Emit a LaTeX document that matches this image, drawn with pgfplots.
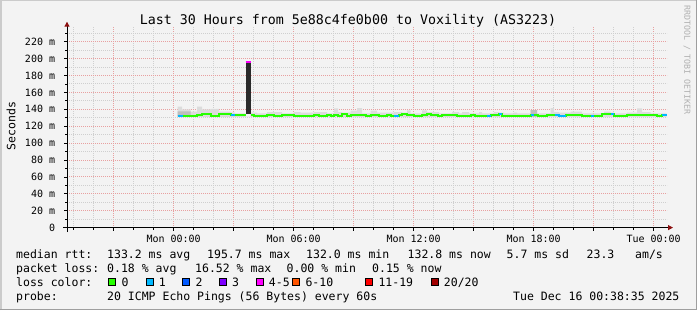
\documentclass[border=0pt]{standalone}
\usepackage{fontspec}
\setmainfont{DejaVu Sans Mono}
\usepackage{pgfplots}
\pgfplotsset{compat=1.18}
\usetikzlibrary{arrows.meta}
\definecolor{bgc}{HTML}{F3F3F3}
\definecolor{lc0}{HTML}{26FF00}
\definecolor{lc1}{HTML}{00B8FF}
\definecolor{lc2}{HTML}{0059FF}
\definecolor{lc3}{HTML}{7E00FF}
\definecolor{lc5}{HTML}{FF00FE}
\definecolor{lc10}{HTML}{FF5500}
\definecolor{lc19}{HTML}{FF0000}
\definecolor{lc20}{HTML}{A10000}
\definecolor{smoke}{HTML}{DCDCDC}
\definecolor{smokedk}{HTML}{BEBEBE}
\definecolor{spikec}{HTML}{2A2A2A}
\definecolor{mgrid}{HTML}{E8A0A0}
\definecolor{mingrid}{HTML}{CFCFCF}
\definecolor{arrowc}{HTML}{8C1010}
\definecolor{shadeb}{HTML}{9E9E9E}
\definecolor{shadea}{HTML}{CBCBCB}
\definecolor{wm}{HTML}{B0B0B0}
\newcommand\lf{\fontsize{11.5bp}{13bp}\selectfont}
\begin{document}
\begin{tikzpicture}[x=1bp,y=1bp]
\fill[bgc] (0,0) rectangle (697,310);
\useasboundingbox (0,0) rectangle (697,310);
\begin{axis}[
  at={(67bp,82.4bp)}, anchor=south west,
  scale only axis, width=600bp, height=200.6bp,
  xmin=-5.33, xmax=24.67, ymin=0, ymax=237.4,
  axis line style={draw=none},
  no markers,
  tick pos=left,
  xtick={-3,0,3,6,9,12,15,18,21,24},
  xticklabels={,Mon 00:00,,Mon 06:00,,Mon 12:00,,Mon 18:00,,Tue 00:00},
  minor xtick={-5,-4,...,24},
  ytick={0,20,...,220},
  yticklabels={0,20 m,40 m,60 m,80 m,100 m,120 m,140 m,160 m,180 m,200 m,220 m},
  minor ytick={10,30,...,230},
  grid=both,
  major grid style={mgrid, dash pattern=on 1bp off 1bp, line width=1bp},
  minor grid style={mingrid, dash pattern=on 1bp off 1bp, line width=1bp},
  tick align=outside,
  major tick length=3bp, minor tick length=2bp,
  tick style={black, line width=0.8bp},
  ticklabel style={font=\fontsize{10bp}{12bp}\selectfont, inner sep=0pt},
  xticklabel style={anchor=base, yshift=-12.2bp},
  yticklabel style={anchor=east, xshift=-8.7bp},
]
% smoke
\addplot[const plot, fill=smoke, draw=none] coordinates {
(0.2,131) (0.2,143.1) (0.43,140) (0.85,137.2) (1.18,143.1) (1.43,140) (1.85,140.5) (2.27,137.2) (2.85,136.5) (3.05,135.2) (3.6,131) (3.85,136) (4.18,135.2) (4.68,136.8) (5.43,135.2) (6.02,136.8) (6.35,136) (7.02,136.8) (7.68,135.2) (8.02,141) (8.22,136.8) (8.43,136) (8.85,138.4) (9.18,141.5) (9.43,135.2) (9.85,138.4) (10.18,136) (11.02,136.8) (11.43,136) (11.68,138.6) (11.85,135.2) (12.43,138.6) (12.68,136.8) (13.27,135.2) (13.93,136.8) (14.27,135.2) (14.43,136.8) (14.77,135.2) (15.27,136.8) (15.43,135.2) (16.02,136.8) (16.27,136) (16.52,135.2) (17.02,136) (17.18,135.2) (17.85,139) (18.18,135.2) (18.85,141.5) (19.02,136.8) (19.27,136) (19.85,137.2) (20.43,135.2) (21.52,137.2) (21.85,136) (22.02,135.2) (22.68,136) (23.18,141) (23.43,136.8) (23.85,135.2) (24.65,135.2) (24.65,131)} -- cycle;
\addplot[const plot, fill=smokedk, draw=none] coordinates {
(0.2,131) (0.2,137.5) (0.85,131) (17.85,131) (17.85,139) (18.18,131) (18.18,131)} -- cycle;
% spike
\addplot[fill=spikec, draw=none] coordinates {(3.6,134) (3.6,195.7) (3.85,195.7) (3.85,134)} -- cycle;
% median, loss 0
\addplot[const plot, lc0, line width=2bp, unbounded coords=jump] coordinates {
(0.2,132.4) (1.18,133.2) (1.43,134.8) (1.85,132.4) (2.27,134.0) (2.48,134.8) (2.85,133.2) (3.6,133.2) (3.6,nan) (3.85,133.2) (4.02,132.4) (4.68,133.2) (5.02,132.4) (5.43,133.2) (6.02,132.4) (7.02,133.2) (7.27,132.4) (7.68,133.2) (7.85,132.4) (8.02,133.2) (8.22,132.4) (8.43,134.8) (8.65,132.4) (8.85,133.2) (9.6,132.4) (9.85,133.2) (10.27,132.4) (10.68,133.2) (10.85,132.4) (11.27,133.2) (11.43,134.0) (11.68,133.2) (12.02,132.4) (12.43,133.2) (12.65,134.8) (12.85,133.2) (13.22,132.4) (13.43,133.2) (14.18,132.4) (14.85,133.2) (15.05,132.4) (15.85,133.2) (16.27,134.8) (16.43,132.4) (17.85,133.2) (18.22,132.4) (18.65,133.2) (19.27,132.4) (19.6,133.2) (20.43,132.4) (21.43,134.8) (22.02,132.4) (22.68,133.2) (24.18,132.4) (24.43,133.2) (24.65,133.2)};
% median, loss 1
\addplot[const plot, lc1, line width=2bp, unbounded coords=jump] coordinates {
(0.2,132.4) (0.45,132.4) (0.45,nan)
(2.85,133.2) (3.05,133.2) (3.05,nan)
(11.02,132.4) (11.27,132.4) (11.27,nan)
(15.65,132.4) (15.85,132.4) (15.85,nan)
(16.27,134.8) (16.43,134.8) (16.43,nan)
(17.85,133.2) (18.02,133.2) (18.02,nan)
(19.05,133.2) (19.27,132.4) (19.6,132.4) (19.6,nan)
(20.85,132.4) (21.02,132.4) (21.02,nan)
(21.85,134.8) (22.02,134.8) (22.02,nan)
(24.43,133.2) (24.65,133.2)};
% median, loss 4-5
\addplot[lc5, line width=2bp] coordinates {(3.6,195.7) (3.85,195.7)};
\end{axis}
% axes
\draw[black, line width=1bp, -{Triangle[length=5bp,width=5bp,color=arrowc]}] (63,82.4) -- (673,82.4);
\draw[black, line width=1bp, -{Triangle[length=5bp,width=5bp,color=arrowc]}] (67,78) -- (67,288.3);
% texts
\node[anchor=base, inner sep=0] at (348,285.9) {\fontsize{13.3bp}{15bp}\selectfont Last 30 Hours from 5e88c4fe0b00 to Voxility (AS3223)};
\node[rotate=90, inner sep=0] at (11,184) {\lf Seconds};
\node[rotate=-90, inner sep=0, text=wm] at (687,250) {\fontsize{8.3bp}{10bp}\selectfont RRDTOOL / TOBI OETIKER};
% legend row 1
\node[anchor=base west, inner sep=0] at (16,51.7) {\lf median rtt:};
\node[anchor=base west, inner sep=0] at (107,51.7) {\lf 133.2 ms avg};
\node[anchor=base west, inner sep=0] at (207,51.7) {\lf 195.7 ms max};
\node[anchor=base west, inner sep=0] at (306,51.7) {\lf 132.0 ms min};
\node[anchor=base west, inner sep=0] at (407.5,51.7) {\lf 132.8 ms now};
\node[anchor=base west, inner sep=0] at (506.5,51.7) {\lf 5.7 ms sd};
\node[anchor=base west, inner sep=0] at (586.5,51.7) {\lf 23.3};
\node[anchor=base west, inner sep=0] at (635,51.7) {\lf am/s};
% row 2
\node[anchor=base west, inner sep=0] at (16,37.7) {\lf packet loss:};
\node[anchor=base west, inner sep=0] at (107,37.7) {\lf 0.18 \% avg};
\node[anchor=base west, inner sep=0] at (195,37.7) {\lf 16.52 \% max};
\node[anchor=base west, inner sep=0] at (286.5,37.7) {\lf 0.00 \% min};
\node[anchor=base west, inner sep=0] at (372,37.7) {\lf 0.15 \% now};
% row 3
\node[anchor=base west, inner sep=0] at (16,23.7) {\lf loss color:};
\foreach \bx/\c/\t in {108.3/lc0/0, 145.7/lc1/1, 182.3/lc2/2, 219/lc3/3, 255.7/lc5/4-5, 292.3/lc10/6-10, 365.3/lc19/11-19, 430.7/lc20/{20/20}}{
  \filldraw[fill=\c, draw=black, line width=1bp] (\bx+0.5,24.8) rectangle ++(7,7);
  \node[anchor=base west, inner sep=0] at (\bx+13,23.7) {\lf \t};
}
% row 4
\node[anchor=base west, inner sep=0] at (16,9.7) {\lf probe:};
\node[anchor=base west, inner sep=0] at (107,9.7) {\lf 20 ICMP Echo Pings (56 Bytes) every 60s};
\node[anchor=base west, inner sep=0] at (513,9.7) {\lf Tue Dec 16 00:38:35 2025};
% frame
\draw[shadea, line width=1.5bp] (0.75,0) -- (0.75,309.25) -- (697,309.25);
\draw[shadeb, line width=1.5bp] (0,0.75) -- (696.25,0.75) -- (696.25,310);
\end{tikzpicture}
\end{document}
